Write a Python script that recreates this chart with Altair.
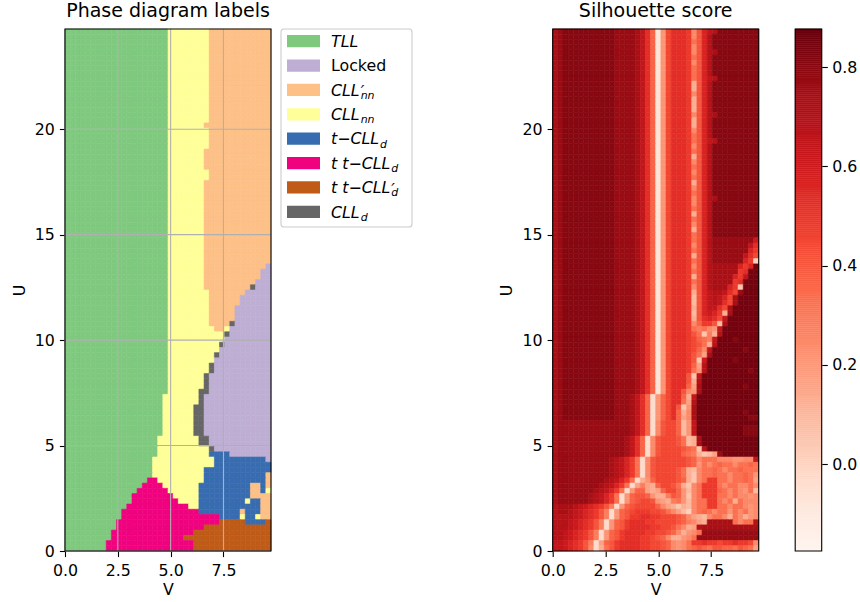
import altair as alt
import pandas as pd

FONT = "DejaVu Sans"
LABEL_SIZE = 15.8
TITLE_SIZE = 19

# Sweep grid: 40 values of V by 100 values of U, drawn over this extent
V_EXTENT = [0.0, 9.75]
U_EXTENT = [0.0, 24.75]
N_V = 40
N_U = 100

V_TICKS = [0.0, 2.5, 5.0, 7.5]
U_TICKS = [0, 5, 10, 15, 20]
CBAR_TICKS = [0.0, 0.2, 0.4, 0.6, 0.8]

PHASE_NAMES = ["TLL", "Locked", "CLL'_nn", "CLL_nn", "t-CLL_d", "tt-CLL_d", "tt-CLL'_d", "CLL_d"]
PHASE_COLORS = ["#7fc97f", "#beaed4", "#fdc086", "#ffff99", "#386cb0", "#f0027f", "#bf5b17", "#666666"]
PHASE_KEYS = "GLOYBPRK"

# Phase labels, top row (largest U) first: (number of rows, run lengths along V)
PHASE_BANDS = [
    (18, "G20 Y8 O12"),
    (1, "G20 Y7 O13"),
    (4, "G20 Y8 O12"),
    (4, "G20 Y7 O13"),
    (2, "G20 Y8 O12"),
    (16, "G20 Y7 O13"),
    (1, "G20 Y7 O12 L1"),
    (2, "G20 Y7 O11 L2"),
    (1, "G20 Y7 O10 L3"),
    (1, "G20 Y7 O9 K1 L3"),
    (1, "G20 Y8 O7 L5"),
    (2, "G20 Y8 O6 L6"),
    (3, "G20 Y8 O5 L7"),
    (1, "G20 Y8 O4 K1 L7"),
    (1, "G20 Y9 O2 Y1 L8"),
    (1, "G20 Y11 K1 L8"),
    (1, "G20 Y11 L9"),
    (1, "G20 Y10 K1 L9"),
    (1, "G20 Y10 L10"),
    (1, "G20 Y9 K1 L10"),
    (1, "G20 Y9 L11"),
    (2, "G20 Y8 K1 L11"),
    (3, "G20 Y7 K1 L12"),
    (1, "G20 Y6 K2 L12"),
    (2, "G19 Y7 K1 L13"),
    (6, "G19 Y6 K2 L13"),
    (2, "G18 Y8 K2 L12"),
    (1, "G18 Y10 K1 L11"),
    (1, "G18 Y10 B4 L8"),
    (1, "G17 Y12 B10 L1"),
    (1, "G17 Y12 B11"),
    (1, "G17 Y10 B13"),
    (1, "G17 Y10 B12 O1"),
    (1, "G16 P2 Y9 B12 O1"),
    (1, "G15 P4 Y7 B10 O2 B1 O1"),
    (1, "G14 P6 Y6 B10 O2 B1 Y1"),
    (1, "G13 P8 Y5 B10 O4"),
    (1, "G13 P9 Y4 B9 Y1 B2 O2"),
    (1, "G12 P12 Y2 B12 O2"),
    (1, "G11 P15 B8 O1 B3 O2"),
    (1, "G11 P19 B4 Y1 B2 Y1 O2"),
    (1, "G10 P20 R5 B4 R1"),
    (1, "G10 P17 R13"),
    (1, "G9 P16 R15"),
    (1, "G9 P14 R17"),
    (2, "G8 P17 R15"),
]

# Silhouette score levels, one letter per cell
SCORE_LETTERS = "abcdefghijklmnopqrstuvwxyz"
SCORE_VALUES = [-0.15, -0.11, -0.07, -0.03, 0.01, 0.05, 0.09, 0.13, 0.17, 0.21,
                0.25, 0.29, 0.33, 0.37, 0.41, 0.45, 0.49, 0.53, 0.57, 0.61,
                0.65, 0.69, 0.73, 0.77, 0.81, 0.85]

# Silhouette rows, top row (largest U) first, V increasing left to right
SCORE_ROWS = [
    "wxyyyyyyyyyyxxxxwurncjprrrqkosuvyyyyyyyy",
    "wxyyyyyyyyyyxxxxwurncjprrrqkosvyyyyyyyyy",
    "wxyyyyyyyyyyxxxxwurncjprrrqmosvyyyyyyyyy",
    "wxyyyyyyyyyyxxxxwurncjprrrqkosvyyyyyyyyy",
    "wxyyyyyyyyyyxxxxwurncjprrrqkosvwyyyyyyyy",
    "wxyyyyyyyyyyxxxxwurncjprrrqmosvyyyyyyyyy",
    "wxyyyyyyyyyyxxxxwurncjprrrqkosvyyyyyyyyy",
    "wxyyyyyyyyyyxxxxwurncjprrrqmosvyyyyyyyyy",
    "wxyyyyyyyyyyxxxxwurncjprrrqmosvyyyyyyyyy",
    "wxyyyyyyyyyyxxxxwurncjprrrqmosuvyyyyyyyy",
    "wxyyyyyyyyyyxxxxwurncjprrrqhosvyyyyyyyyy",
    "wxyyyyyyyyyyxxxxwurncjprrrqhosvyyyyyyyyy",
    "wxyyyyyyyyyyxxxxwurncjprrrqkosvyyyyyyyyy",
    "wxyyyyyyyyyyxxxxwurncjprrrqhosvyyyyyyyyy",
    "wxyyyyyyyyyyxxxxwurncjprrrqhosvyyyyyyyyy",
    "wxyyyyyyyyyyxxxxwurncjprrrqhosvyyyyyyyyy",
    "wxyyyyyyyyyyxxxxwurncjprrrqkosvwyyyyyyyy",
    "wxyyyyyyyyyyxxxxwurncjprrrqhosvyyyyyyyyy",
    "wxyyyyyyyyyyxxxxwurncjprrrqhosvyyyyyyyyy",
    "wxyyyyyyyyyyxxxxwurncjprrrqkosvyyyyyyyyy",
    "wxyyyyyyyyyyxxxxwurncjprrrqmosvyyyyyyyyy",
    "wxyyyyyyyyyyxxxxwurncjprrrqmosuvyyyyyyyy",
    "wxyyyyyyyyyyxxxxwurncjprrrqkosvyyyyyyyyy",
    "wxyyyyyyyyyyxxxxwurncjprrrqmosvyyyyyyyyy",
    "wxyyyyyyyyyyxxxxwurncjprrrqhosvyyyyyyyyy",
    "wxyyyyyyyyyyxxxxwurncjprrrqkosvyyyyyyyyy",
    "wxyyyyyyyyyyxxxxwurncjprrrqmosvyyyyyyyyy",
    "wxyyyyyyyyyyxxxxwurncjprrrqkosvyyyyyyyyy",
    "wxyyyyyyyyyyxxxxwurncjprrrqmosvyyyyyyyyy",
    "wxyyyyyyyyyyxxxxwurncjprrrqhosvyyyyyyyyy",
    "wxyyyyyyyyyyxxxxwurncjprrrqkosvyyyyyyyyy",
    "wxyyyyyyyyyyxxxxwurncjprrrqmosvyyyyyyyyy",
    "wxyyyyyyyyyyxxxxwurncjprrrqkosvwyyyyyyyy",
    "wxyyyyyyyyyyxxxxwurncjprrrqkosvyyyyyyyyy",
    "wxyyyyyyyyyyxxxxwurncjprrrqmosvyyyyyyyyy",
    "wxyyyyyyyyyyxxxxwurncjprrrqhosvyyyyyyyyy",
    "wxyyyyyyyyyyxxxxwurncjprrrqmosvyyyyyyyyy",
    "wxyyyyyyyyyyxxxxwurncjprrrqkosvyyyyyyyyy",
    "wxyyyyyyyyyyxxxxwurncjprrrqhosvyyyyyyyyy",
    "wxyyyyyyyyyyxxxxwurncjprrrqmosvyyyyyyyyy",
    "wxyyyyyyyyyyxxxxwurncjprrrqmosvxxxxxxxxt",
    "wxyyyyyyyyyyxxxxwurncjprrrqkosvxxxxxxxur",
    "wxyyyyyyyyyyxxxxwurncjprrrqmosvxxxxxxxsq",
    "wxyyyyyyyyyyxxxxwurncjprrrqhosvxxxxxxurp",
    "wxyyyyyyyyyyxxxxwurncjprrrqmosvxxxxxxsqe",
    "wxyyyyyyyyyyxxxxwurncjprrrqkosvwwwwwsqsz",
    "wxyyyyyyyyyyxxxxwurncjprrrqmosvwwwwwqrzz",
    "wxyyyyyyyyyyxxxxwurncjprrrqhosvwwwwsquzz",
    "wxyyyyyyyyyyxxxxwurncjprrrqmosvwwwwqrzzz",
    "wxyyyyyyyyyyxxxxwurncjprrrqkosvwwwsqfzzz",
    "wxyyyyyyyyyyxxxxwurncjprrrqhosuvvurpxzzz",
    "wxyyyyyyyyyyxxxxwurncjprrrqgosuvuspwzzzz",
    "wxyyyyyyyyyyxxxxwurncjprrrqgosuvurpwzzzz",
    "wxyyyyyyyyyyxxxxwurncjprrrqhosuurpwzzzzz",
    "wxyyyyyyyyyyxxxxwurncjprrrqgostsqhwzzzzz",
    "wxyyyyyyyyyyxxxxwurncjprrrqhorsrpuzzzzzz",
    "wxyyyyyyyyyyxxxxwurncjprrrqknqqogwzzzzzz",
    "wxyyyyyyyyyyxxxxwurncjprrrqmlmkjuzzzzzzz",
    "wxyyyyyyyyyyxxxxwurncjprrrqomflhvzzzzzzz",
    "wxyyyyyyyyyyxxxxwurncjprrrqpnmluzzzyzzzz",
    "wxyyyyyyyyyyxxxxwurncjprrrqpomhvzzzzzzzz",
    "wxyyyyyyyyyyxxxxwurncjprrrqpnkuzzzzzzyzz",
    "wxyyyyyyyyyyxxxxwurncjprrrqomiwzzzzzzzzz",
    "wxyyyyyyyyyyxxxxwurncjprrrqoftzzzzzyzzzz",
    "wxyyyyyyyyyyxxxxwurncjprrrqnivzzzzzzzzzz",
    "wxyyyyyyyyyyxxxxwurncjprrrqmjvzzzzzzzzyz",
    "wxyyyyyyyyyyxxxxwurncjprrrofuzzzzzzzzzzz",
    "wxyyyyyyyyyyxxxxwurncjprrrohvzzzzzzzzzzz",
    "wxyyyyyyyyyyxxxxwurncjprrrniwzzzzzzzzyzz",
    "wxyyyyyyyyyyxxxxwurncjprrokjwzzzzzzzzzzz",
    "wxyyyyyyyyyyxxxwurndjnprrnhuzzzzzzzzzzzz",
    "wxyyyyyyyyyyxxxwurndjnprrmivzzzzzzzzzzzz",
    "wxyyyyyyyyyyxxxwurndjnprofjwzzzzzzzzzzzz",
    "wxyyyyyyyyyyxxxwurndjnprnhkwzzzzzzzzzyzz",
    "wxyyyyyyyyyyxxxwurndjnprnikwzzzzzzzzzzyy",
    "wxxxxxxxxxxxxxxwurndkoppngjuzzzzzzzzzzzz",
    "wxxxxxxxxxxxxxxwurndkoppngjuzzzzzzzzzyyy",
    "wxxxxxxxxxxxxxxwurndkoppngjuzzzzzzzzzyyy",
    "wxxxxxxxxxxxxxwurndkopppomghwzzzzzzzzzzz",
    "wxxxxxxxxxxxxxwurndkopppomghwzzzzzzzzzzz",
    "wxxxxxxxxxxxxxwurndkopppponmfvzzzzzzzzzz",
    "wxxxxxxxxxxxxxwurndkoppppnmlhfgixzzzzzzz",
    "wxxxxxxxxxxwvusqmdkopppppponkmmmkkkjjkku",
    "wxxxxxxxxxxwvusqmdkopppppponjmkmnmmkmmnm",
    "wxxxxxxxxxxwvusqmdkoppppomhgkmmnmkmmnmmm",
    "wxxxxxxxxxxwvusqmdkoppppomhfkmmnmmkmmnmj",
    "wxxxxxxxxxwvusqmdhjnpppponhfkmqqmmkmmnmi",
    "wxxxxxxxxwvusqmdilihnppomhfkmqqqmkmmkkmk",
    "wxxxxxxxwvusqmdjnnihinppnjgkmqqqnmkmkjmg",
    "wxxxxxxwvusqmdjnoonjhhlonjfkmqqqmmkmkkjk",
    "wxxxxxxwvusqmdjnoppojihlmjgkmmqqmkmhmkkk",
    "vwwwvutsrqoldjnoppppnkihfhgkmmqqmmkmmkjk",
    "vwwvutsrqoldjnopqqqppomkigekmnmkmmjmkmjk",
    "vvvvutsrqoldjnoqqrrqqppponkihgkmmkhmkhjk",
    "vvvutsrqoldjnoqrrrqqpppponlkihwwwwwmkmmv",
    "vvvutsrqoldjnoqrrrrqqppomkhivwwwwwwwwwww",
    "vvutsrqoldjnoqrrrrqqpponkhjkmxxxxxxxxxxx",
    "vvutsrqoldjnoqrrrqqponkhhjkmxxxxxxxxxxxx",
    "uutsrqoldinoqrrrrqqpponkjkmqqrqqpqqrqqpk",
    "uutsrqokdhmoqrrrrqqpponkjkmnonmoonnmonmi",
]

SCORE_RANGE = [-0.175, 0.877]
REDS = ["#fff5f0", "#fee0d2", "#fcbba1", "#fc9272", "#fb6a4a",
        "#ef3b2c", "#cb181d", "#a50f15", "#67000d"]

# Legend labels: pieces set in italic, upright, subscript or prime
LEGEND_LABELS = [
    ("TLL", [("TLL", "main")]),
    ("Locked", [("Locked", "roman")]),
    ("CLL'_nn", [("CLL", "main"), ("\u2032", "sup"), ("nn", "sub")]),
    ("CLL_nn", [("CLL", "main"), ("nn", "sub")]),
    ("t-CLL_d", [("t\u2212CLL", "main"), ("d", "sub")]),
    ("tt-CLL_d", [("t t\u2212CLL", "main"), ("d", "sub")]),
    ("tt-CLL'_d", [("t t\u2212CLL", "main"), ("\u2032", "sup"), ("d", "sub")]),
    ("CLL_d", [("CLL", "main"), ("d", "sub")]),
]

# ---------------------------------------------------------------- cell table
def expand_runs(rle):
    out = []
    for tok in rle.split():
        out += [tok[0]] * int(tok[1:])
    return out

phase_rows = []
for count, rle in PHASE_BANDS:
    phase_rows += [expand_runs(rle)] * count

dv = (V_EXTENT[1] - V_EXTENT[0]) / N_V
du = (U_EXTENT[1] - U_EXTENT[0]) / N_U

records = []
for r in range(N_U):
    j = N_U - 1 - r
    prow = phase_rows[r]
    srow = SCORE_ROWS[r]
    assert len(prow) == N_V and len(srow) == N_V, (r, len(prow), len(srow))
    for i in range(N_V):
        records.append({
            "v0": V_EXTENT[0] + i * dv, "v1": V_EXTENT[0] + (i + 1) * dv,
            "u0": U_EXTENT[0] + j * du, "u1": U_EXTENT[0] + (j + 1) * du,
            "phase": PHASE_NAMES[PHASE_KEYS.index(prow[i])],
            "score": SCORE_VALUES[SCORE_LETTERS.index(srow[i])],
        })
cells = pd.DataFrame(records)

# ---------------------------------------------------------------- scales/axes
PANEL_W, PANEL_H = 206, 522
x_scale = alt.Scale(domain=V_EXTENT, nice=False, zero=False)
y_scale = alt.Scale(domain=U_EXTENT, nice=False, zero=False)
phase_scale = alt.Scale(domain=PHASE_NAMES, range=PHASE_COLORS)
score_stops = [SCORE_RANGE[0] + (SCORE_RANGE[1] - SCORE_RANGE[0]) * k / 8 for k in range(9)]
score_scale = alt.Scale(domain=score_stops, range=REDS, interpolate="rgb", clamp=True)

ax_x = alt.Axis(values=V_TICKS, format=".1f", title="V")
ax_y = alt.Axis(values=U_TICKS, format="d", title="U")

frame_data = alt.Data(values=[{"v0": V_EXTENT[0], "v1": V_EXTENT[1],
                               "u0": U_EXTENT[0], "u1": U_EXTENT[1]}])


def panel_frame():
    return alt.Chart(frame_data).mark_rect(fillOpacity=0, stroke="black", strokeWidth=1.1).encode(
        x=alt.X("v0:Q", scale=x_scale, axis=ax_x), x2="v1:Q",
        y=alt.Y("u0:Q", scale=y_scale, axis=ax_y), y2="u1:Q",
    )


# Phase diagram panel
phase_heat = alt.Chart(cells).mark_rect(strokeWidth=0.6).encode(
    x=alt.X("v0:Q", scale=x_scale, axis=ax_x), x2="v1:Q",
    y=alt.Y("u0:Q", scale=y_scale, axis=ax_y), y2="u1:Q",
    color=alt.Color("phase:N", scale=phase_scale, legend=None),
    stroke=alt.Stroke("phase:N", scale=phase_scale, legend=None),
)
grid_v = alt.Chart(pd.DataFrame({"v0": V_TICKS})).mark_rule(color="#b0b0b0", strokeWidth=1.1).encode(
    x=alt.X("v0:Q", scale=x_scale, axis=ax_x))
grid_u = alt.Chart(pd.DataFrame({"u0": U_TICKS})).mark_rule(color="#b0b0b0", strokeWidth=1.1).encode(
    y=alt.Y("u0:Q", scale=y_scale, axis=ax_y))

left = alt.layer(phase_heat, grid_v, grid_u, panel_frame()).properties(
    width=PANEL_W, height=PANEL_H, title="Phase diagram labels")

# Legend box
ADVANCE = {"T": 1251, "L": 1141, "C": 1430, "t": 803, "\u2212": 1716, " ": 651}
LEG_W, LEG_H = 131, 198
LABEL_X = 50


def text_width(s, size):
    return sum(ADVANCE[c] for c in s) / 2048.0 * size


parts = {"main": [], "roman": [], "sub": [], "sup": []}
for name, pieces in LEGEND_LABELS:
    main_w = 0.0
    for text, kind in pieces:
        if kind in ("main", "roman"):
            parts[kind].append({"entry": name, "text": text, "px": LABEL_X})
            if kind == "main":
                main_w = text_width(text, LABEL_SIZE)
        else:
            parts[kind].append({"entry": name, "text": text, "px": LABEL_X + main_w + 1.0})

leg_y = alt.Scale(type="point", domain=PHASE_NAMES, range=[12.2, 182.8], padding=0)


def legend_text(rows, size, dy, italic=True):
    style = {"fontStyle": "italic"} if italic else {}
    return alt.Chart(pd.DataFrame(rows)).mark_text(
        align="left", baseline="alphabetic", font=FONT, fontSize=size, dy=dy, color="black", **style
    ).encode(
        x=alt.X("px:Q", scale=None),
        y=alt.Y("entry:N", scale=leg_y, axis=None),
        text="text:N",
    )


legend_box = alt.Chart(alt.Data(values=[{}])).mark_rect(
    fill="white", stroke="#cccccc", strokeWidth=1.1, cornerRadius=3
).encode(x=alt.value(0), x2=alt.value(LEG_W), y=alt.value(0), y2=alt.value(LEG_H))

PATCH_SHAPE = "M-1,-0.373L1,-0.373L1,0.373L-1,0.373Z"
legend_patches = alt.Chart(pd.DataFrame({"entry": PHASE_NAMES})).mark_point(
    shape=PATCH_SHAPE, size=33 * 33, filled=True, opacity=1, strokeWidth=0
).encode(
    x=alt.value(22.5),
    y=alt.Y("entry:N", scale=leg_y, axis=None),
    color=alt.Color("entry:N", scale=phase_scale, legend=None),
)

legend_view = alt.layer(
    legend_box, legend_patches,
    legend_text(parts["main"], LABEL_SIZE, 5.8),
    legend_text(parts["roman"], LABEL_SIZE, 5.8, italic=False),
    legend_text(parts["sub"], 11.0, 9.0),
    legend_text(parts["sup"], LABEL_SIZE, 7.5),
).properties(width=LEG_W, height=LEG_H, title=" ")

# Silhouette panel
score_heat = alt.Chart(cells).mark_rect(strokeWidth=0.6).encode(
    x=alt.X("v0:Q", scale=x_scale, axis=ax_x), x2="v1:Q",
    y=alt.Y("u0:Q", scale=y_scale, axis=ax_y), y2="u1:Q",
    color=alt.Color("score:Q", scale=score_scale, legend=None),
    stroke=alt.Stroke("score:Q", scale=score_scale, legend=None),
)
right = alt.layer(score_heat, panel_frame()).properties(
    width=PANEL_W, height=PANEL_H, title="Silhouette score")

# Colorbar
N_CBAR = 256
cstep = (SCORE_RANGE[1] - SCORE_RANGE[0]) / N_CBAR
cbar_df = pd.DataFrame({
    "c0": 0.0, "c1": 1.0,
    "s0": [SCORE_RANGE[0] + k * cstep for k in range(N_CBAR)],
    "s1": [SCORE_RANGE[0] + (k + 1) * cstep for k in range(N_CBAR)],
    "score": [SCORE_RANGE[0] + (k + 0.5) * cstep for k in range(N_CBAR)],
})
c_x = alt.Scale(domain=[0, 1], nice=False, zero=False)
c_y = alt.Scale(domain=SCORE_RANGE, nice=False, zero=False)
c_axis = alt.Axis(orient="right", values=CBAR_TICKS, format=".1f", title=None, labelPadding=4.5)
cbar_strip = alt.Chart(cbar_df).mark_rect(strokeWidth=0.5).encode(
    x=alt.X("c0:Q", scale=c_x, axis=None), x2="c1:Q",
    y=alt.Y("s0:Q", scale=c_y, axis=c_axis), y2="s1:Q",
    color=alt.Color("score:Q", scale=score_scale, legend=None),
    stroke=alt.Stroke("score:Q", scale=score_scale, legend=None),
)
cbar_frame = alt.Chart(alt.Data(values=[{"c0": 0, "c1": 1, "s0": SCORE_RANGE[0], "s1": SCORE_RANGE[1]}])).mark_rect(
    fillOpacity=0, stroke="black", strokeWidth=1.1
).encode(
    x=alt.X("c0:Q", scale=c_x, axis=None), x2="c1:Q",
    y=alt.Y("s0:Q", scale=c_y, axis=c_axis), y2="s1:Q",
)
cbar = alt.layer(cbar_strip, cbar_frame).properties(width=26.5, height=PANEL_H, title=" ")

indep = dict(color="independent", stroke="independent")
group_left = alt.hconcat(left, legend_view, spacing=6).resolve_scale(**indep)
group_right = alt.hconcat(right, cbar, spacing=32.5).resolve_scale(**indep)

chart = alt.hconcat(group_left, group_right, spacing=83.7).resolve_scale(**indep).properties(
    padding={"left": 10, "top": 1, "right": 0, "bottom": 0},
    background="white",
).configure_view(
    stroke="transparent"
).configure_axis(
    labelFont=FONT, labelFontSize=LABEL_SIZE, labelColor="black",
    titleFont=FONT, titleFontSize=LABEL_SIZE, titleFontWeight="normal", titleColor="black",
    tickColor="black", tickSize=5.6, tickWidth=1.1, domain=False, grid=False,
    labelFlush=False, labelOverlap=False,
).configure_axisX(
    labelPadding=7, titlePadding=4
).configure_axisY(
    labelPadding=5, titlePadding=7
).configure_title(
    font=FONT, fontSize=TITLE_SIZE, fontWeight="normal", color="black",
    anchor="middle", baseline="alphabetic", offset=7.6, frame="group",
)

chart.save("out.html", embed_options={"renderer": "svg", "actions": False})
